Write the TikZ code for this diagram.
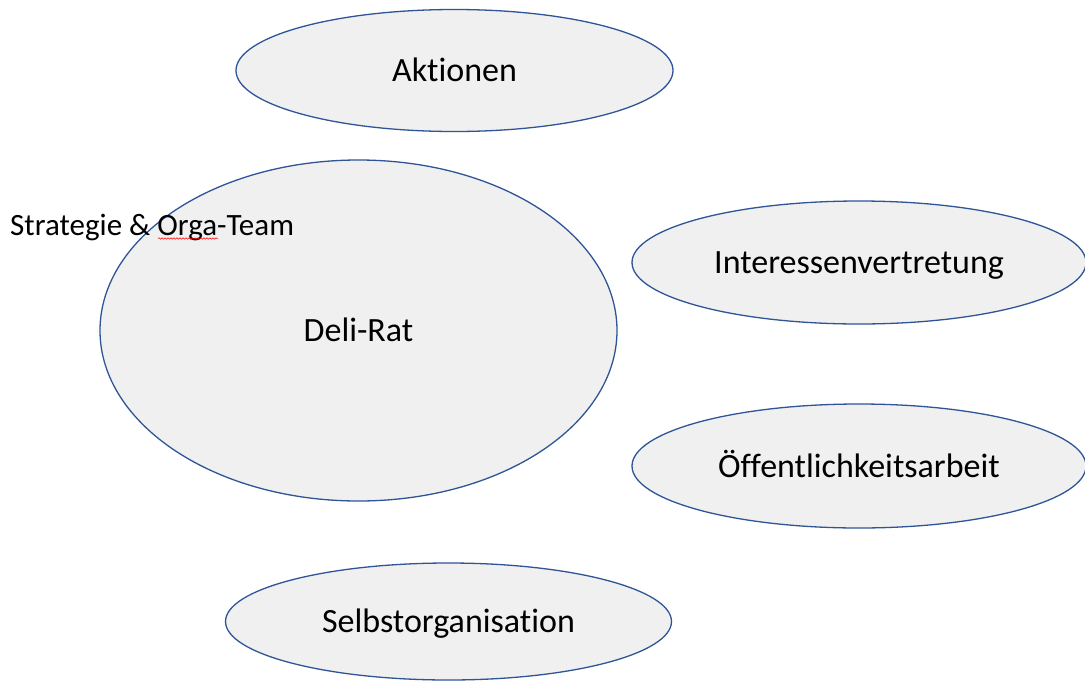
\documentclass[tikz,border=0pt]{standalone}
\usepackage{fontspec}
\setmainfont[Ligatures={NoCommon,NoRare,NoContextual}]{Carlito}
\usetikzlibrary{shapes.geometric,decorations.pathmorphing}
\definecolor{ellfill}{HTML}{F0F0F0}
\definecolor{ellline}{HTML}{2F5597}
\begin{document}
\begin{tikzpicture}[x=1pt,y=-1pt,
  blob/.style={ellipse, draw=ellline, fill=ellfill, line width=1.3pt, inner sep=0pt,
    text height=22pt, text depth=0pt, font=\fontsize{34}{40}\selectfont},
  plain/.style={inner sep=0pt, font=\fontsize{31}{36}\selectfont}]
\useasboundingbox (0,0) rectangle (1085,681);
\fill[white] (0,0) rectangle (1085,681);
\node[blob, minimum width=437pt, minimum height=122pt] (akt) at (454.5,70.5) {Aktionen};
\node[blob, minimum width=517pt, minimum height=341pt] (deli) at (358.5,330.5) {Deli-Rat};
\node[blob, minimum width=454pt, minimum height=123pt] (int) at (859,262.5) {Interessenvertretung};
\node[blob, minimum width=454pt, minimum height=124pt] (oef) at (859,466) {Öffentlichkeitsarbeit};
\node[blob, minimum width=446pt, minimum height=117pt] (selbst) at (448.5,621.5) {Selbstorganisation};
\node[plain, anchor=base west] (strat) at (10,235) {Strategie \& Orga-Team};
\coordinate (sqa) at (158,238.5);
\coordinate (sqb) at (218,238.5);
\draw[red, line width=0.5pt, decorate, decoration={snake, amplitude=0.8pt, segment length=3pt}] (sqa) -- (sqb);
\end{tikzpicture}
\end{document}
